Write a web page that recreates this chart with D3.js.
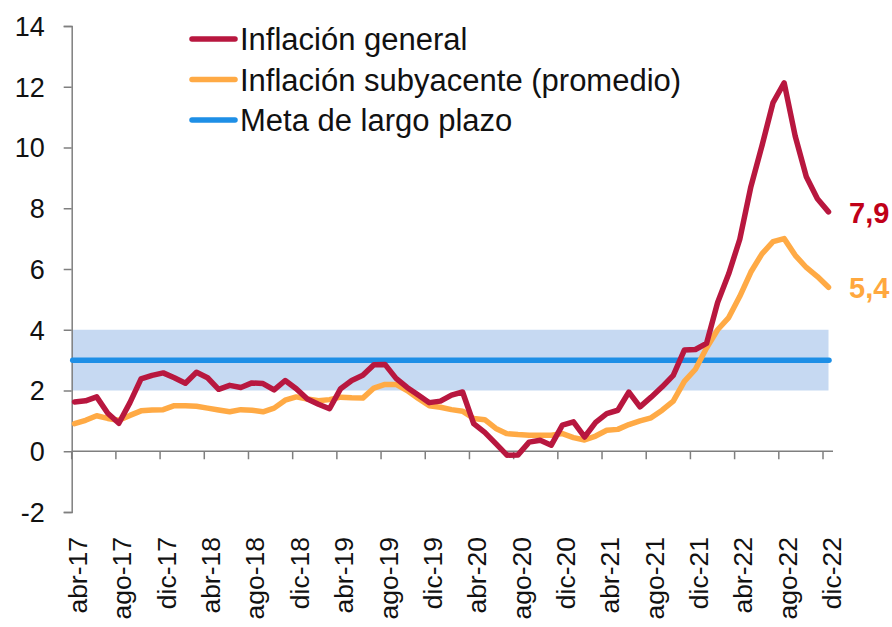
<!DOCTYPE html>
<html>
<head>
<meta charset="utf-8">
<script src="https://cdn.jsdelivr.net/npm/d3@7"></script>
<style>
  html, body { margin: 0; padding: 0; background: #fff; }
  svg { display: block; font-family: "Liberation Sans", Arial, sans-serif; }
</style>
</head>
<body>
<svg id="chart" width="892" height="627"></svg>
<script>
// ---- data ----
const tickLabels = ["abr-17","ago-17","dic-17","abr-18","ago-18","dic-18","abr-19","ago-19","dic-19",
                    "abr-20","ago-20","dic-20","abr-21","ago-21","dic-21","abr-22","ago-22","dic-22"];
// monthly, abr-17 ... dic-22 (69 months)
const inflacionGeneral = [
  1.62, 1.66, 1.79, 1.25, 0.92, 1.60, 2.38, 2.50, 2.58,
  2.42, 2.24, 2.60, 2.42, 2.04, 2.17, 2.10, 2.25, 2.23, 2.02, 2.33, 2.06,
  1.72, 1.55, 1.40, 2.06, 2.33, 2.50, 2.85, 2.86, 2.40, 2.10, 1.85, 1.60,
  1.65, 1.85, 1.95, 0.91, 0.62, 0.25, -0.13, -0.12, 0.30, 0.36, 0.20, 0.86,
  0.97, 0.47, 0.95, 1.24, 1.35, 1.95, 1.46, 1.78, 2.12, 2.50, 3.33, 3.35,
  3.55, 4.90, 5.84, 6.98, 8.71, 10.06, 11.48, 12.13, 10.37, 9.04, 8.31, 7.88
];
const inflacionSubyacente = [
  0.91, 1.02, 1.17, 1.08, 1.02, 1.18, 1.33, 1.36, 1.37,
  1.50, 1.50, 1.48, 1.42, 1.36, 1.30, 1.37, 1.35, 1.30, 1.42, 1.68, 1.79,
  1.72, 1.66, 1.70, 1.78, 1.76, 1.75, 2.08, 2.20, 2.20, 2.00, 1.74, 1.50,
  1.45, 1.37, 1.32, 1.08, 1.04, 0.75, 0.58, 0.55, 0.53, 0.53, 0.53, 0.58,
  0.45, 0.37, 0.50, 0.69, 0.72, 0.88, 1.00, 1.10, 1.35, 1.65, 2.30, 2.70,
  3.40, 4.00, 4.40, 5.10, 5.90, 6.50, 6.90, 7.00, 6.45, 6.05, 5.75, 5.40
];
const meta = 3;
const rangoMeta = [2, 4];
const yTicks = [-2, 0, 2, 4, 6, 8, 10, 12, 14];
const endLabels = ["7,9", "5,4"];
const legendNames = ["Inflación general", "Inflación subyacente (promedio)", "Meta de largo plazo"];

// ---- styles ----
const cRed = "#B8173F", cOrange = "#FFAA45", cBlue = "#1E8FE6", cBand = "#C6D9F2", cAxis = "#7F7F7F";

const svg = d3.select("#chart");
const n = inflacionGeneral.length;
const x = d3.scaleLinear().domain([0, n - 1]).range([74.5, 828.5]);
const xTick = d3.scaleLinear().domain([0, n - 1]).range([71.7, 823]);
const y = d3.scaleLinear().domain([-2, 14]).range([512, 26]);
const axisX = 71.7;

// band 2-4
svg.append("rect")
  .attr("x", axisX).attr("width", x(n - 1) - axisX)
  .attr("y", y(rangoMeta[1])).attr("height", y(rangoMeta[0]) - y(rangoMeta[1]))
  .attr("fill", cBand);

// y axis
const yAxis = svg.append("g").attr("transform", `translate(${axisX},0)`)
  .call(d3.axisLeft(y).tickValues(yTicks).tickSize(8).tickPadding(19).tickFormat(d => d));
yAxis.select(".domain").attr("stroke", cAxis).attr("stroke-width", 1.5);
yAxis.selectAll(".tick line").attr("stroke", cAxis).attr("stroke-width", 1.5);
yAxis.selectAll(".tick text").attr("font-size", 27).attr("fill", "#111")
  .attr("font-family", "Liberation Sans, Arial, sans-serif").attr("dy", "0.35em");

// x axis line at 0
svg.append("line").attr("x1", axisX).attr("x2", 833).attr("y1", y(0)).attr("y2", y(0))
  .attr("stroke", cAxis).attr("stroke-width", 1.5);
const tickIdx = tickLabels.map((d, i) => i * 4);
svg.append("g").selectAll("line").data(tickIdx).join("line")
  .attr("x1", d => xTick(d)).attr("x2", d => xTick(d))
  .attr("y1", y(0)).attr("y2", y(0) + 8)
  .attr("stroke", cAxis).attr("stroke-width", 1.5);

// x labels (rotated)
svg.append("g").selectAll("text").data(tickIdx).join("text")
  .attr("transform", d => `translate(${x(d) + 3},537) rotate(-90)`)
  .attr("text-anchor", "end").attr("dy", "0.36em")
  .attr("font-size", 26.5).attr("fill", "#111")
  .text((d, i) => tickLabels[i]);

// meta line
svg.append("line")
  .attr("x1", axisX + 1).attr("x2", x(n - 1) + 0.5)
  .attr("y1", y(meta)).attr("y2", y(meta))
  .attr("stroke", cBlue).attr("stroke-width", 5.5).attr("stroke-linecap", "round");

const line = d3.line().x((d, i) => x(i)).y(d => y(d));
svg.append("path").datum(inflacionSubyacente).attr("d", line)
  .attr("fill", "none").attr("stroke", cOrange).attr("stroke-width", 5.5)
  .attr("stroke-linejoin", "round").attr("stroke-linecap", "round");
svg.append("path").datum(inflacionGeneral).attr("d", line)
  .attr("fill", "none").attr("stroke", cRed).attr("stroke-width", 5.5)
  .attr("stroke-linejoin", "round").attr("stroke-linecap", "round");

// end labels
svg.append("text").attr("x", 849).attr("y", y(inflacionGeneral[n - 1]) + 11)
  .attr("font-size", 29).attr("font-weight", "bold").attr("fill", "#C00018").text(endLabels[0]);
svg.append("text").attr("x", 849).attr("y", y(inflacionSubyacente[n - 1]) + 11)
  .attr("font-size", 29).attr("font-weight", "bold").attr("fill", "#FFA83E").text(endLabels[1]);

// legend
const legColors = [cRed, cOrange, cBlue];
const leg = svg.append("g");
legendNames.forEach((name, i) => {
  const by = 50 + i * 40.5;
  leg.append("line").attr("x1", 192).attr("x2", 235).attr("y1", by - 11).attr("y2", by - 11)
    .attr("stroke", legColors[i]).attr("stroke-width", 5.5).attr("stroke-linecap", "round");
  leg.append("text").attr("x", 240).attr("y", by).attr("font-size", 31).attr("fill", "#111").text(name);
});
</script>
</body>
</html>
